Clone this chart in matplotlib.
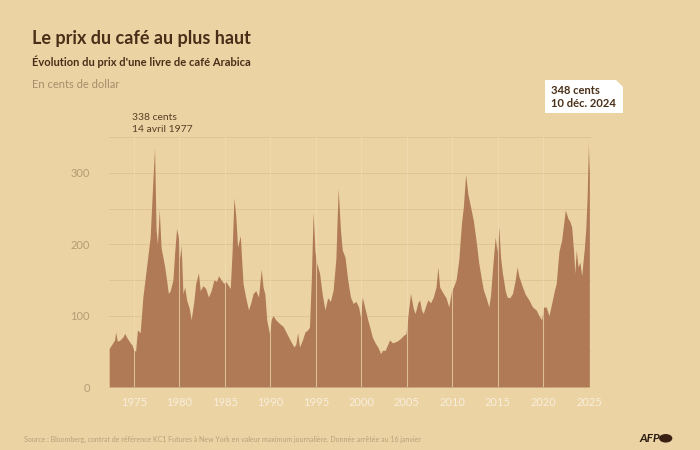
import matplotlib
matplotlib.use("Agg")
import matplotlib.pyplot as plt
from matplotlib.patches import Polygon, Circle

# prix (cents/livre), en années décimales
years = [
    1972.3, 1972.6, 1972.9, 1973.0, 1973.2, 1973.5, 1973.8, 1974.0, 1974.3, 1974.6,
    1974.8, 1975.0, 1975.2, 1975.4, 1975.7, 1976.0, 1976.4, 1976.8, 1977.1, 1977.28,
    1977.45, 1977.6, 1977.8, 1978.0, 1978.2, 1978.4, 1978.6, 1978.8, 1979.0, 1979.3,
    1979.5, 1979.7, 1979.9, 1980.1, 1980.2, 1980.4, 1980.6, 1980.8, 1981.1, 1981.3,
    1981.6, 1981.8, 1982.1, 1982.3, 1982.6, 1982.9, 1983.2, 1983.5, 1983.8, 1984.1,
    1984.3, 1984.6, 1984.9, 1985.1, 1985.4, 1985.6, 1985.8, 1986.0, 1986.2, 1986.4,
    1986.7, 1987.0, 1987.3, 1987.6, 1987.9, 1988.1, 1988.4, 1988.7, 1989.0, 1989.2,
    1989.4, 1989.6, 1989.9, 1990.1, 1990.3, 1990.6, 1991.0, 1991.4, 1991.8, 1992.2,
    1992.6, 1992.8, 1993.0, 1993.2, 1993.5, 1993.8, 1994.1, 1994.3, 1994.5, 1994.7,
    1994.9, 1995.1, 1995.4, 1995.7, 1996.0, 1996.3, 1996.6, 1996.9, 1997.2, 1997.45,
    1997.7, 1997.9, 1998.2, 1998.5, 1998.8, 1999.1, 1999.4, 1999.7, 1999.9, 2000.1,
    2000.4, 2000.7, 2001.0, 2001.2, 2001.5, 2001.8, 2002.1, 2002.4, 2002.6, 2002.9,
    2003.1, 2003.4, 2003.7, 2004.0, 2004.3, 2004.6, 2004.9, 2005.2, 2005.4, 2005.7,
    2005.9, 2006.2, 2006.4, 2006.6, 2006.8, 2007.1, 2007.3, 2007.6, 2007.9, 2008.2,
    2008.4, 2008.6, 2009.0, 2009.3, 2009.6, 2009.9, 2010.1, 2010.4, 2010.7, 2011.0,
    2011.2, 2011.45, 2011.7, 2012.0, 2012.3, 2012.6, 2012.9, 2013.2, 2013.4, 2013.7,
    2014.0, 2014.2, 2014.4, 2014.7, 2014.9, 2015.1, 2015.3, 2015.5, 2015.8, 2016.0,
    2016.3, 2016.6, 2016.9, 2017.1, 2017.3, 2017.7, 2018.0, 2018.4, 2018.8, 2019.2,
    2019.5, 2019.8, 2020.0, 2020.3, 2020.6, 2020.9, 2021.2, 2021.4, 2021.7, 2022.0,
    2022.4, 2022.7, 2022.9, 2023.1, 2023.3, 2023.45, 2023.6, 2023.8, 2024.0, 2024.2,
    2024.5, 2024.65, 2024.8, 2024.94, 2025.0, 2025.04,
]
prices = [
    54, 60, 66, 77, 64, 66, 70, 75, 68, 62,
    59, 52, 50, 80, 76, 126, 168, 210, 290, 335,
    220, 200, 248, 195, 182, 168, 150, 131, 135, 150,
    190, 222, 210, 180, 200, 131, 140, 122, 110, 94,
    120, 145, 160, 135, 142, 138, 126, 135, 150, 148,
    156, 150, 145, 148, 142, 138, 190, 265, 240, 196,
    212, 145, 125, 108, 120, 131, 135, 126, 165, 140,
    130, 94, 75, 95, 100, 94, 89, 85, 75, 65,
    56, 60, 76, 56, 65, 77, 80, 84, 150, 245,
    190, 173, 160, 130, 108, 125, 120, 136, 180, 278,
    220, 192, 182, 150, 126, 117, 120, 112, 98, 126,
    110, 94, 80, 70, 62, 56, 47, 52, 51, 60,
    66, 62, 63, 65, 68, 72, 75, 110, 131, 110,
    103, 118, 122, 108, 103, 115, 122, 118, 126, 140,
    168, 140, 131, 125, 112, 135, 140, 150, 178, 230,
    252, 298, 270, 252, 233, 205, 173, 150, 136, 125,
    112, 130, 165, 210, 190, 224, 180, 159, 135, 126,
    125, 131, 150, 168, 155, 140, 130, 122, 112, 108,
    100, 94, 112, 112, 100, 117, 135, 145, 190, 206,
    248, 236, 232, 224, 192, 159, 192, 168, 175, 156,
    196, 222, 267, 342, 300, 330,
]
x_ticks = [1975, 1980, 1985, 1990, 1995, 2000, 2005, 2010, 2015, 2020, 2025]
y_ticks = [0, 100, 200, 300]
grid_y = [50, 100, 150, 200, 250, 300, 350]

BG = "#ebd3a4"
FILL = "#af7a55"
DARK = "#4a2f18"

plt.rcParams["font.family"] = ["Lato", "DejaVu Sans"]

fig = plt.figure(figsize=(7, 4.5), dpi=100, facecolor=BG)
ax = fig.add_axes([0.156, 0.14, 0.688, 0.563])
ax.set_facecolor(BG)

ax.fill_between(years, prices, 0, color=FILL, lw=0, zorder=2)

for g in grid_y:
    ax.axhline(g, color="#e0c594", lw=0.7, zorder=1)
for xt in x_ticks[:-1]:
    ax.axvline(xt, ymax=350 / 355, color="#f1dcb4", lw=0.8, alpha=0.7, zorder=3)

ax.set_xlim(1972.3, 2025.2)
ax.set_ylim(0, 355)
ax.set_xticks(x_ticks)
ax.set_yticks(y_ticks)
ax.tick_params(length=0, pad=7)
ax.tick_params(axis="x", colors="#f8eedc", labelsize=8)
ax.tick_params(axis="y", colors="#b59c74", labelsize=8, pad=14)
for s in ax.spines.values():
    s.set_visible(False)

# titres
fig.text(0.046, 0.915, "Le prix du café au plus haut", fontsize=13,
         fontweight="bold", color=DARK, va="center")
fig.text(0.046, 0.862, "Évolution du prix d'une livre de café Arabica", fontsize=8,
         fontweight="bold", color=DARK, va="center")
fig.text(0.046, 0.813, "En cents de dollar", fontsize=8, color="#a68d6a", va="center")

# annotation 1977
fig.text(0.189, 0.738, "338 cents", fontsize=7.5, color="#5a3f25", va="center")
fig.text(0.189, 0.713, "14 avril 1977", fontsize=7.5, color="#5a3f25", va="center")

# encadré 2024
x0, x1, yb, yt, c = 545 / 700, 623 / 700, 1 - 113 / 450, 1 - 80 / 450, 7
box = Polygon([(x0, yb), (x1, yb), (x1, yt - c / 450), (x1 - c / 700, yt), (x0, yt)],
              closed=True, transform=fig.transFigure, facecolor="white",
              edgecolor="none", zorder=5)
fig.patches.append(box)
fig.text(0.787, 0.80, "348 cents", fontsize=8, fontweight="bold", color=DARK,
         va="center", zorder=6)
fig.text(0.787, 0.771, "10 déc. 2024", fontsize=8, fontweight="bold", color=DARK,
         va="center", zorder=6)

# source et logo
fig.text(0.034, 0.024, "Source : Bloomberg, contrat de référence KC1 Futures à New York "
         "en valeur maximum journalière. Donnée arrêtée au 16 janvier",
         fontsize=5, color="#b79f7c", va="center")
fig.text(0.913, 0.026, "AFP", fontsize=8.5, fontweight="bold", style="italic",
         color="#2a1a10", va="center")
fig.patches.append(Circle((0.951, 0.026), 0.0095, transform=fig.transFigure,
                          facecolor="#3a2012", edgecolor="none"))

fig.savefig("out.png", dpi=100, facecolor=BG)
